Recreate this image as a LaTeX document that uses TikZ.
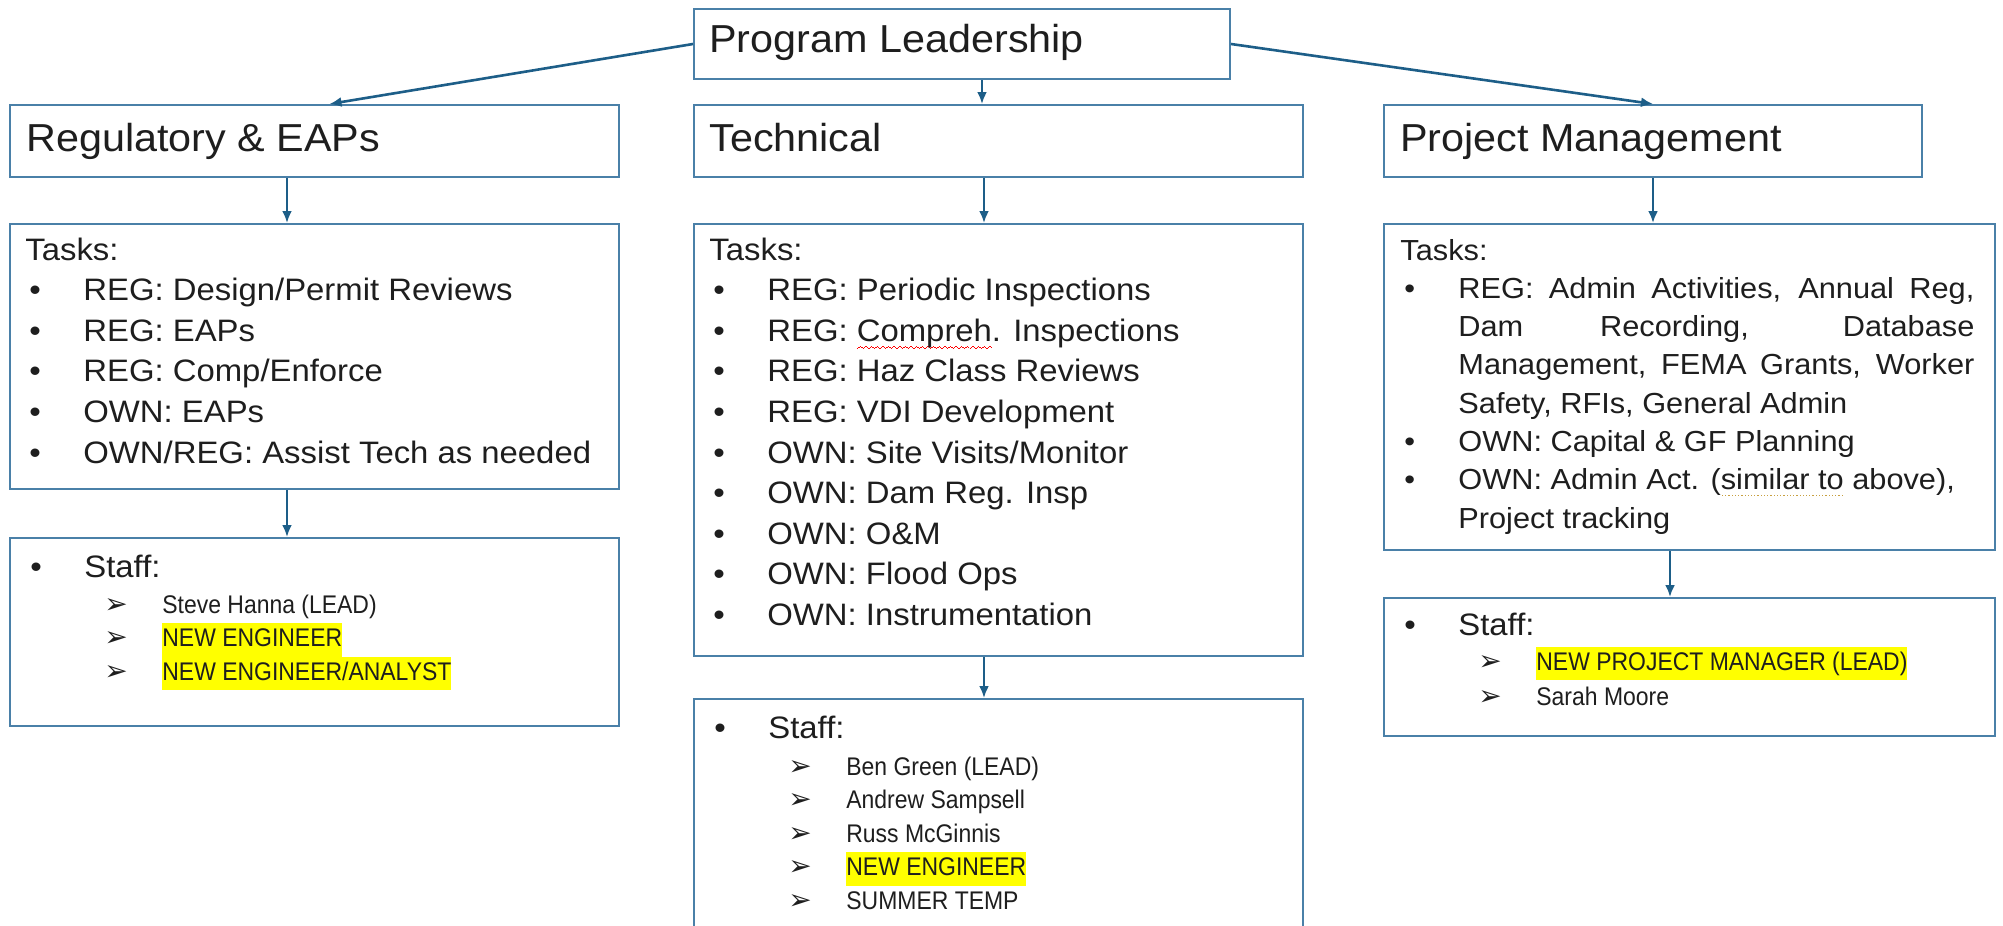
\documentclass[tikz,border=0pt]{standalone}
\usepackage{fontspec}
\usetikzlibrary{arrows.meta}
\setmainfont{Liberation Sans}[FakeStretch=1.06]
\newfontfamily\namefont{Liberation Sans}[FakeStretch=0.9]
\newfontfamily\dingfont{DejaVu Sans}

\definecolor{boxblue}{HTML}{4A80A8}
\definecolor{arrowblue}{HTML}{1D5E88}
\definecolor{hlyellow}{HTML}{FFFF00}
\definecolor{inkgray}{HTML}{1E1E1E}
\definecolor{dotgold}{HTML}{C8A040}

\newcommand{\titlefont}{\fontsize{19.5pt}{23pt}\selectfont}
\newcommand{\taskfont}{\fontsize{15.5pt}{20.3pt}\selectfont}
\newcommand{\pmfont}{\fontsize{14.5pt}{19.15pt}\selectfont}
\newcommand{\namesize}{\namefont\fontsize{12.75pt}{16.75pt}\selectfont}
\newcommand{\taskbullet}{\makebox[29pt][l]{\hspace{2pt}\textbullet}}
\newcommand{\staffarrow}{\makebox[29pt][l]{{\dingfont\fontsize{14pt}{16.75pt}\selectfont ➢}}}
\newcommand{\hilite}[1]{{\setlength{\fboxsep}{0pt}\colorbox{hlyellow}{\strut #1}}}
\newlength{\marklen}
\newcommand{\spellwave}[1]{\settowidth{\marklen}{#1}\rlap{\textcolor{red}{\hbox to \marklen{\xleaders\hbox{\rule[-3.6pt]{0.7pt}{0.45pt}\rule[-3.1pt]{0.7pt}{0.45pt}\rule[-2.6pt]{0.7pt}{0.45pt}\rule[-3.1pt]{0.7pt}{0.45pt}}\hfil}}}#1}
\newcommand{\gramdots}[1]{\settowidth{\marklen}{#1}\rlap{\textcolor{dotgold}{\hbox to \marklen{\xleaders\hbox{\kern0.5pt\rule[-3pt]{0.6pt}{0.6pt}\kern0.5pt}\hfil}}}#1}

\tikzstyle{block} = [rectangle, draw=boxblue, line width=1pt, anchor=north west, inner sep=0pt]
\tikzstyle{arrow} = [draw=arrowblue, line width=1.3pt, -{Latex[length=6pt,width=5pt]}]
\tikzstyle{txt} = [anchor=base west, inner sep=0pt, text=inkgray]

\begin{document}
\begin{tikzpicture}[x=0.5pt, y=-0.5pt]
\useasboundingbox (0,0) rectangle (2003,926);
\clip (0,0) rectangle (2003,926);
\fill[white] (0,0) rectangle (2003,926);

\node[block, minimum width=268pt, minimum height=35pt] (leadership) at (693,8) {};
\node[block, minimum width=304.5pt, minimum height=36pt] (regulatory) at (9,104) {};
\node[block, minimum width=304.5pt, minimum height=36pt] (technical) at (693,104) {};
\node[block, minimum width=269pt, minimum height=36pt] (projmgmt) at (1383,104) {};

\node[block, minimum width=304.5pt, minimum height=132.5pt] (regtasks) at (9,223) {};
\node[block, minimum width=304.5pt, minimum height=216pt] (techtasks) at (693,223) {};
\node[block, minimum width=305.5pt, minimum height=163pt] (pmtasks) at (1383,223) {};

\node[block, minimum width=304.5pt, minimum height=94pt] (regstaff) at (9,537) {};
\node[block, minimum width=304.5pt, minimum height=121pt] (techstaff) at (693,698) {};
\node[block, minimum width=305.5pt, minimum height=69pt] (pmstaff) at (1383,597) {};

\node[txt] (leadershiptxt) at (709,53) {\titlefont Program Leadership};
\node[txt] (regulatorytxt) at (26,151) {\titlefont Regulatory \& EAPs};
\node[txt] (technicaltxt) at (709,151) {\titlefont Technical};
\node[txt] (projmgmttxt) at (1400,151) {\titlefont Project Management};

\node[txt] (regtaskstxt) at (25,260) {\parbox[t]{290pt}{\taskfont Tasks:\\
\taskbullet REG: Design/Permit Reviews\\
\taskbullet REG: EAPs\\
\taskbullet REG: Comp/Enforce\\
\taskbullet OWN: EAPs\\
\taskbullet OWN/REG: Assist Tech as needed}};

\node[txt] (techtaskstxt) at (709,260) {\parbox[t]{290pt}{\taskfont Tasks:\\
\taskbullet REG: Periodic Inspections\\
\taskbullet REG: \spellwave{Compreh}. Inspections\\
\taskbullet REG: Haz Class Reviews\\
\taskbullet REG: VDI Development\\
\taskbullet OWN: Site Visits/Monitor\\
\taskbullet OWN: Dam Reg. Insp\\
\taskbullet OWN: O\&M\\
\taskbullet OWN: Flood Ops\\
\taskbullet OWN: Instrumentation}};

\node[txt] (pmtaskstxt) at (1400,260) {\parbox[t]{300pt}{\pmfont Tasks:\\
\taskbullet\makebox[258pt][s]{REG: Admin Activities, Annual Reg,}\\
\hspace*{29pt}\makebox[258pt][s]{Dam Recording, Database}\\
\hspace*{29pt}\makebox[258pt][s]{Management, FEMA Grants, Worker}\\
\hspace*{29pt}Safety, RFIs, General Admin\\
\taskbullet OWN: Capital \& GF Planning\\
\taskbullet OWN: Admin Act. (\gramdots{similar to} above),\\
\hspace*{29pt}Project tracking}};

\node[txt] (regstafftxt) at (30,577) {\taskfont\makebox[27pt][l]{\textbullet}Staff:};
\node[txt] (regnames) at (104,613) {\parbox[t]{250pt}{\namesize
\staffarrow Steve Hanna (LEAD)\\
\staffarrow\hilite{NEW ENGINEER}\\
\staffarrow\hilite{NEW ENGINEER/ANALYST}}};

\node[txt] (techstafftxt) at (714,738) {\taskfont\makebox[27pt][l]{\textbullet}Staff:};
\node[txt] (technames) at (788,775) {\parbox[t]{250pt}{\namesize
\staffarrow Ben Green (LEAD)\\
\staffarrow Andrew Sampsell\\
\staffarrow Russ McGinnis\\
\staffarrow\hilite{NEW ENGINEER}\\
\staffarrow SUMMER TEMP}};

\node[txt] (pmstafftxt) at (1404,635) {\taskfont\makebox[27pt][l]{\textbullet}Staff:};
\node[txt] (pmnames) at (1478,670) {\parbox[t]{250pt}{\namesize
\staffarrow\hilite{NEW PROJECT MANAGER (LEAD)}\\[0.75pt]
\staffarrow Sarah Moore}};

\path[arrow] (leadership.west) -- ([xshift=7.5pt]regulatory.north);
\path[arrow] ([xshift=10pt]leadership.south) -- ([xshift=-8.25pt]technical.north);
\path[arrow] (leadership.east) -- (projmgmt.north);
\path[arrow] ([xshift=-13.75pt]regulatory.south) -- ([xshift=-13.75pt]regtasks.north);
\path[arrow] ([xshift=-13.75pt]regtasks.south) -- ([xshift=-13.75pt]regstaff.north);
\path[arrow] ([xshift=-7.25pt]technical.south) -- ([xshift=-7.25pt]techtasks.north);
\path[arrow] ([xshift=-7.25pt]techtasks.south) -- ([xshift=-7.25pt]techstaff.north);
\path[arrow] (projmgmt.south) -- (projmgmt.south |- pmtasks.north);
\path[arrow] ([xshift=-9.75pt]pmtasks.south) -- ([xshift=-9.75pt]pmtasks.south |- pmstaff.north);
\end{tikzpicture}
\end{document}
